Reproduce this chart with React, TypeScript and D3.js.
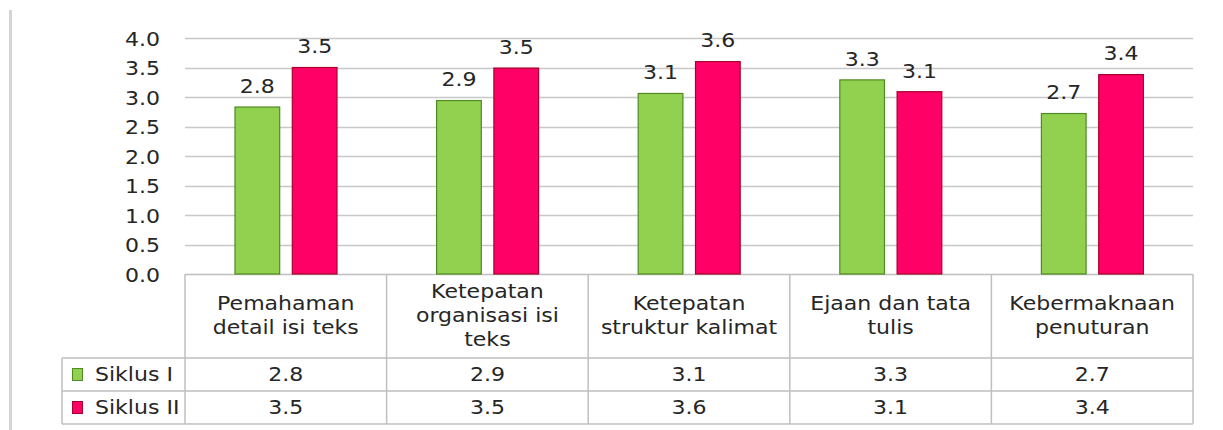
import React, { useEffect, useRef } from "react";
import * as d3 from "d3";

// categories (header text split in lines as drawn in the table)
const categories = [
  "Pemahaman detail isi teks",
  "Ketepatan organisasi isi teks",
  "Ketepatan struktur kalimat",
  "Ejaan dan tata tulis",
  "Kebermaknaan penuturan",
];
const categoryLines = [
  ["Pemahaman", "detail isi teks"],
  ["Ketepatan", "organisasi isi", "teks"],
  ["Ketepatan", "struktur kalimat"],
  ["Ejaan dan tata", "tulis"],
  ["Kebermaknaan", "penuturan"],
];
const seriesNames = ["Siklus I", "Siklus II"];
const siklus1 = [2.83, 2.94, 3.06, 3.29, 2.72];
const siklus2 = [3.5, 3.49, 3.6, 3.09, 3.38];
const yTicks = [0, 0.5, 1, 1.5, 2, 2.5, 3, 3.5, 4];

const W = 1223;
const H = 430;
const FONT = "'DejaVu Sans', sans-serif";
const STRETCH = 1.16;

const App = () => {
  const chartRef = useRef(null);

  useEffect(() => {
    drawChart();
  }, []);

  const drawChart = () => {
    const svg = d3.select(chartRef.current);
    svg.selectAll("*").remove();

    const fills = ["#92D050", "#FF0066"];
    const strokes = ["#4F8A23", "#A8002E"];
    const textColor = "#262626";
    const gridColor = "#C8C8C8";
    const borderColor = "#BFBFBF";

    const left = 185;
    const right = 1193;
    const top = 38;
    const base = 274;
    const headerBottom = 358;
    const row1Bottom = 391;
    const row2Bottom = 424;
    const legendLeft = 62;

    const x = d3.scaleBand().domain(categories).range([left, right]);
    const xSub = d3
      .scaleBand()
      .domain(seriesNames)
      .range([50, 152])
      .paddingInner(0.22);
    const y = d3.scaleLinear().domain([0, 4]).range([base, top]);
    const fmt = d3.format(".1f");
    const series = [siklus1, siklus2];

    const addText = (g, tx, ty, str, anchor) =>
      g
        .append("text")
        .attr("transform", `translate(${tx},${ty}) scale(${STRETCH},1)`)
        .attr("text-anchor", anchor)
        .attr("dy", "0.36em")
        .attr("font-family", FONT)
        .attr("font-size", 19)
        .attr("fill", textColor)
        .text(str);

    // frame line on the left
    svg
      .append("line")
      .attr("x1", 10.5)
      .attr("x2", 10.5)
      .attr("y1", 10)
      .attr("y2", H)
      .attr("stroke", "#D4D4D4")
      .attr("stroke-width", 3);

    // gridlines + y labels
    yTicks.forEach((t) => {
      svg
        .append("line")
        .attr("x1", left)
        .attr("x2", right)
        .attr("y1", Math.round(y(t)) + 0.5)
        .attr("y2", Math.round(y(t)) + 0.5)
        .attr("stroke", t === 0 ? borderColor : gridColor)
        .attr("stroke-width", 1.3);
      addText(svg, 160, y(t) + 1, fmt(t), "end");
    });

    // bars
    categories.forEach((c, i) => {
      series.forEach((vals, s) => {
        const bx = x(c) + xSub(seriesNames[s]);
        const bw = xSub.bandwidth();
        svg
          .append("rect")
          .attr("x", bx)
          .attr("y", y(vals[i]))
          .attr("width", bw)
          .attr("height", base - y(vals[i]))
          .attr("fill", fills[s])
          .attr("stroke", strokes[s])
          .attr("stroke-width", 1.2);
        addText(svg, bx + bw / 2, y(vals[i]) - 21, fmt(vals[i]), "middle");
      });
    });

    // table grid
    const grid = svg
      .append("g")
      .attr("stroke", borderColor)
      .attr("stroke-width", 1.5)
      .attr("fill", "none");
    const vLines = categories.map((c) => x(c)).concat([right]);
    vLines.forEach((vx) => {
      grid
        .append("line")
        .attr("x1", vx)
        .attr("x2", vx)
        .attr("y1", base)
        .attr("y2", row2Bottom);
    });
    [headerBottom, row1Bottom, row2Bottom].forEach((hy) => {
      grid
        .append("line")
        .attr("x1", legendLeft)
        .attr("x2", right)
        .attr("y1", hy)
        .attr("y2", hy);
    });
    grid
      .append("line")
      .attr("x1", legendLeft)
      .attr("x2", legendLeft)
      .attr("y1", headerBottom)
      .attr("y2", row2Bottom);

    // header text
    const headerMid = (base + headerBottom) / 2;
    categories.forEach((c, i) => {
      const lines = categoryLines[i];
      const cx = x(c) + x.bandwidth() / 2;
      lines.forEach((ln, k) => {
        const ly = headerMid + (k - (lines.length - 1) / 2) * 24 - 1;
        addText(svg, cx, ly, ln, "middle");
      });
    });

    // value rows + legend
    const rowMids = [(headerBottom + row1Bottom) / 2, (row1Bottom + row2Bottom) / 2];
    series.forEach((vals, s) => {
      const ry = rowMids[s];
      svg
        .append("rect")
        .attr("x", 72.5)
        .attr("y", ry - 6)
        .attr("width", 10)
        .attr("height", 12)
        .attr("fill", fills[s])
        .attr("stroke", strokes[s])
        .attr("stroke-width", 1);
      addText(svg, 95, ry, seriesNames[s], "start");
      categories.forEach((c, i) => {
        addText(svg, x(c) + x.bandwidth() / 2, ry, fmt(vals[i]), "middle");
      });
    });
  };

  return (
    <svg
      ref={chartRef}
      width={W}
      height={H}
      style={{ position: "absolute", left: 0, top: 0, background: "#fff" }}
    ></svg>
  );
};

export default App;
